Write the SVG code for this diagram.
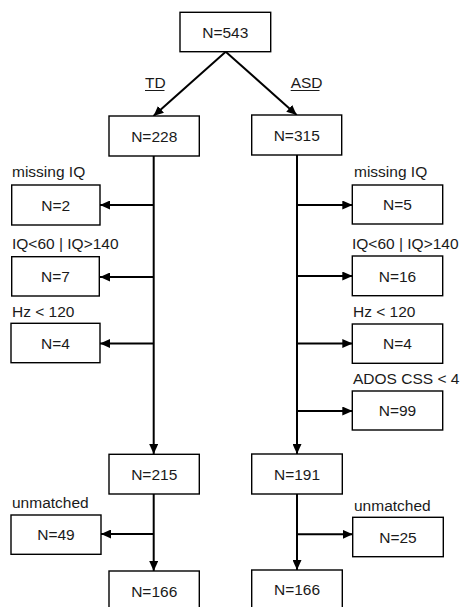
<svg xmlns="http://www.w3.org/2000/svg" width="466" height="607" viewBox="0 0 466 607">
<style>
.box{fill:#fff;stroke:#000;stroke-width:1.4}
.t{font-family:"Liberation Sans",Arial,sans-serif;font-size:15.5px;fill:#1a1a1a}
.c{text-anchor:middle}
.ln{stroke:#000;stroke-width:2;fill:none}
.ar{marker-end:url(#ah)}
</style>
<defs>
<marker id="ah" markerUnits="userSpaceOnUse" markerWidth="10" markerHeight="9" refX="10" refY="4.5" orient="auto" viewBox="0 0 10 9">
<path d="M0,0 L10,4.5 L0,9 z" fill="#000"/>
</marker>
</defs>
<g id="connectors">
<line class="ln ar" x1="225.7" y1="51.7" x2="153.5" y2="116"/>
<line class="ln ar" x1="225.7" y1="51.7" x2="296.7" y2="115"/>
<line class="ln ar" x1="153.7" y1="156" x2="153.7" y2="454"/>
<line class="ln ar" x1="153.7" y1="205" x2="100" y2="205"/>
<line class="ln ar" x1="153.7" y1="277" x2="100" y2="277"/>
<line class="ln ar" x1="153.7" y1="343.5" x2="100" y2="343.5"/>
<line class="ln ar" x1="153.7" y1="494" x2="153.7" y2="571"/>
<line class="ln ar" x1="153.7" y1="534" x2="101" y2="534"/>
<line class="ln ar" x1="297" y1="155" x2="297" y2="454"/>
<line class="ln ar" x1="297" y1="205" x2="352.3" y2="205"/>
<line class="ln ar" x1="297" y1="276" x2="352.3" y2="276"/>
<line class="ln ar" x1="297" y1="343.5" x2="352.3" y2="343.5"/>
<line class="ln ar" x1="297" y1="411" x2="352.3" y2="411"/>
<line class="ln ar" x1="297" y1="494" x2="297" y2="570"/>
<line class="ln ar" x1="297" y1="534.3" x2="352.7" y2="534.3"/>
</g>
<g id="label-td">
<text class="t" x="145" y="88">TD</text>
<line x1="145" y1="90.5" x2="164.5" y2="90.5" stroke="#1a1a1a" stroke-width="1"/>
</g>
<g id="label-asd">
<text class="t" x="290.7" y="88">ASD</text>
<line x1="290.7" y1="90.5" x2="319.5" y2="90.5" stroke="#1a1a1a" stroke-width="1"/>
</g>
<g id="n543"><rect class="box" x="180" y="12.3" width="90.7" height="39.4"/><text class="t c" x="225.3" y="37.5">N=543</text></g>
<g id="n228"><rect class="box" x="109" y="116" width="90.3" height="40"/><text class="t c" x="154.2" y="141.5">N=228</text></g>
<g id="n315"><rect class="box" x="251.7" y="115" width="90" height="40"/><text class="t c" x="296.7" y="140.5">N=315</text></g>
<g id="td-missing"><text class="t" x="12" y="176.7">missing IQ</text><rect class="box" x="11.7" y="185" width="88.3" height="40"/><text class="t c" x="55.8" y="210.5">N=2</text></g>
<g id="td-iq"><text class="t" x="12" y="249.3">IQ&lt;60 | IQ&gt;140</text><rect class="box" x="11.7" y="256.7" width="87.6" height="39.3"/><text class="t c" x="55.5" y="282">N=7</text></g>
<g id="td-hz"><text class="t" x="12" y="316.7">Hz &lt; 120</text><rect class="box" x="11" y="323.3" width="89" height="39.4"/><text class="t c" x="55.5" y="348.5">N=4</text></g>
<g id="asd-missing"><text class="t" x="354" y="176.7">missing IQ</text><rect class="box" x="352.3" y="185" width="90.4" height="39"/><text class="t c" x="397.5" y="210">N=5</text></g>
<g id="asd-iq"><text class="t" x="352" y="249.3">IQ&lt;60 | IQ&gt;140</text><rect class="box" x="352.3" y="256" width="90.4" height="39.7"/><text class="t c" x="397.5" y="281.5">N=16</text></g>
<g id="asd-hz"><text class="t" x="353" y="316.7">Hz &lt; 120</text><rect class="box" x="352.3" y="324" width="90.4" height="39.3"/><text class="t c" x="397.5" y="349">N=4</text></g>
<g id="asd-ados"><text class="t" x="353" y="384">ADOS CSS &lt; 4</text><rect class="box" x="352.3" y="391" width="90.4" height="39"/><text class="t c" x="397.5" y="416">N=99</text></g>
<g id="n215"><rect class="box" x="109" y="454.3" width="90.3" height="39.7"/><text class="t c" x="154.2" y="479.5">N=215</text></g>
<g id="n191"><rect class="box" x="251.7" y="454" width="90.6" height="40"/><text class="t c" x="297" y="479.5">N=191</text></g>
<g id="td-unmatched"><text class="t" x="12" y="508.3">unmatched</text><rect class="box" x="11" y="515" width="90" height="39.3"/><text class="t c" x="56" y="540">N=49</text></g>
<g id="asd-unmatched"><text class="t" x="354" y="510.7">unmatched</text><rect class="box" x="352.7" y="517.3" width="90.6" height="39.4"/><text class="t c" x="398" y="542.5">N=25</text></g>
<g id="td-final"><rect class="box" x="109" y="571" width="90.3" height="40"/><text class="t c" x="154.2" y="596.5">N=166</text></g>
<g id="asd-final"><rect class="box" x="251.7" y="570" width="90.6" height="40"/><text class="t c" x="297" y="595">N=166</text></g>
</svg>
